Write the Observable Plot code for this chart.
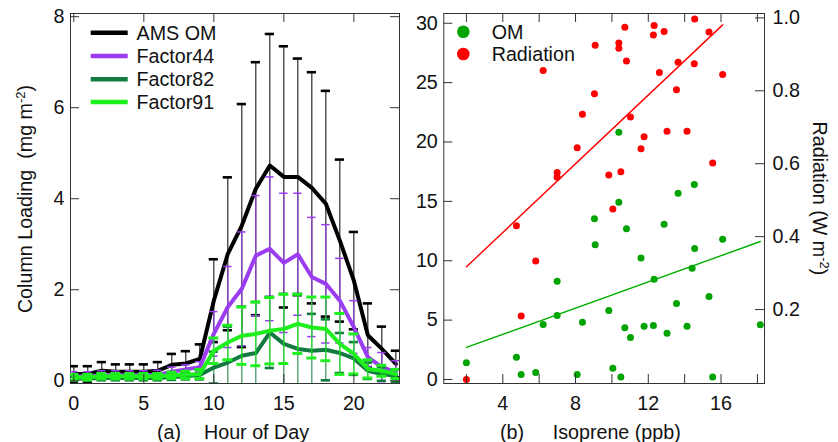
<!DOCTYPE html>
<html><head><meta charset="utf-8">
<script src="https://cdn.jsdelivr.net/npm/d3@7"></script>
<script src="https://cdn.jsdelivr.net/npm/@observablehq/plot@0.6"></script>
<style>
html,body{margin:0;padding:0;background:#fff;}
#wrap{position:relative;width:838px;height:442px;overflow:hidden;background:#fff;}
#wrap svg{position:absolute;top:0;}
</style></head><body><div id="wrap"></div>
<script>
// ---------- Panel (a) data ----------
const hours = [0,1,2,3,4,5,6,7,8,9,10,11,12,13,14,15,16,17,18,19,20,21,22,23];
const amsMean = [0.15,0.15,0.22,0.20,0.20,0.20,0.22,0.35,0.38,0.48,1.76,2.79,3.41,4.22,4.73,4.48,4.48,4.24,3.89,3.08,2.20,1.00,0.70,0.37];
const amsErr  = [0.17,0.17,0.19,0.16,0.16,0.16,0.19,0.24,0.27,0.32,0.91,1.68,2.67,2.78,2.89,2.87,2.60,2.54,2.48,1.78,1.07,0.70,0.49,0.29];
const f44Mean = [0.10,0.10,0.12,0.12,0.12,0.12,0.13,0.20,0.25,0.30,1.03,1.62,2.02,2.75,2.90,2.59,2.78,2.28,2.13,1.76,1.18,0.52,0.30,0.19];
const f44Err  = [0.10,0.10,0.10,0.10,0.10,0.10,0.10,0.10,0.10,0.12,0.49,0.89,1.25,1.32,1.58,1.53,1.34,1.31,1.30,0.93,0.58,0.21,0.32,0.25];
const f82Mean = [0.05,0.05,0.06,0.06,0.06,0.06,0.06,0.08,0.10,0.13,0.29,0.40,0.55,0.61,1.06,0.81,0.70,0.66,0.68,0.61,0.49,0.22,0.15,0.11];
const f82Err  = [0.05,0.05,0.05,0.05,0.05,0.05,0.05,0.06,0.07,0.10,0.35,0.79,1.08,1.12,0.78,1.10,1.21,0.81,0.67,0.44,0.36,0.18,0.15,0.14];
const f91Mean = [0.08,0.08,0.10,0.10,0.10,0.10,0.10,0.12,0.13,0.15,0.66,0.84,0.99,1.03,1.10,1.14,1.25,1.17,1.14,0.81,0.59,0.26,0.22,0.15];
const f91Err  = [0.06,0.06,0.06,0.06,0.06,0.06,0.06,0.07,0.08,0.10,0.28,0.38,0.63,0.70,0.73,0.76,0.65,0.67,0.70,0.67,0.44,0.20,0.12,0.10];
const seriesNames  = ["AMS OM","Factor44","Factor82","Factor91"];
const seriesColors = ["#000000","#9b3cf0","#137a40","#1ef01e"];
const hourTicks = [0,5,10,15,20];
const loadTicks = [0,2,4,6,8];

// ---------- Panel (b) data ----------
const isoOM = [2.0,4.75,5.01,5.81,6.22,6.99,6.99,8.09,8.38,9.04,9.08,9.83,10.05,10.38,10.38,10.49,10.71,10.80,11.02,11.60,11.77,12.28,12.32,12.87,13.03,13.55,13.64,14.13,14.41,14.53,14.55,15.34,15.54,16.09,18.16];
const omVals = [1.40,1.88,0.42,0.59,4.63,8.28,5.39,0.42,4.83,13.53,11.34,5.81,0.95,20.83,14.93,0.22,4.35,12.69,3.54,10.24,4.49,4.55,8.45,13.08,3.90,6.40,15.69,4.49,9.37,16.42,11.03,6.99,0.22,11.82,4.60];
const isoRad = [2.0,4.75,5.01,5.81,6.22,6.99,6.99,8.09,8.38,9.04,9.08,9.83,10.05,10.38,10.38,10.49,10.71,10.80,11.02,11.60,11.77,12.28,12.32,12.61,12.87,13.03,13.55,13.64,14.13,14.53,14.55,15.34,15.54,16.09];
const radVals = [0.008,0.430,0.182,0.333,0.856,0.576,0.563,0.644,0.736,0.792,0.925,0.569,0.476,0.931,0.917,0.578,0.974,0.882,0.728,0.641,0.674,0.953,0.979,0.850,0.963,0.689,0.803,0.878,0.689,0.874,0.997,0.961,0.602,0.845];
// fitted lines (slope, intercept) as shown in the figure
const omFit = [0.552, 1.594];
const radFit = [0.0471, 0.223];
const isoTicks = [2,4,6,8,10,12,14,16,18];
const isoLabels = [4,8,12,16];
const omTicks = [0,5,10,15,20,25,30];
const radTicks = [0.2,0.4,0.6,0.8,1.0];

// ---------- layout ----------
const FONT = "'Liberation Sans', Arial, sans-serif";
const FS = 19.7;
const H = 442;
const wrap = document.getElementById("wrap");
const TICK = 9, AX = "#333";

// ===== Panel (a) =====
const W1 = 420, m1 = {left:70, right:21, top:13, bottom:59};
const fw1 = W1 - m1.left - m1.right, fh = H - m1.top - m1.bottom;
const means = [amsMean, f44Mean, f82Mean, f91Mean];
const errs = [amsErr, f44Err, f82Err, f91Err];
const capW = [2.6, 1.5, 2.6, 3];
const capHalf = [4.6, 4.2, 4.6, 5];
const marksA = [Plot.frame({stroke: AX})];
seriesNames.forEach((name, k) => {
  const data = hours.map((h, i) => ({series: name, hour: h, mean: means[k][i], lo: means[k][i] - errs[k][i], hi: means[k][i] + errs[k][i]}));
  const c = seriesColors[k];
  marksA.push(
    Plot.ruleX(data, {x: "hour", y1: "lo", y2: "hi", stroke: c, strokeWidth: 1, clip: true}),
    Plot.ruleY(data, {x1: "hour", x2: "hour", y: "hi", stroke: c, strokeWidth: capW[k], insetLeft: -capHalf[k], insetRight: -capHalf[k], clip: true}),
    Plot.ruleY(data, {x1: "hour", x2: "hour", y: "lo", stroke: c, strokeWidth: capW[k], insetLeft: -capHalf[k], insetRight: -capHalf[k], clip: true}),
    Plot.line(data, {x: "hour", y: "mean", stroke: c, strokeWidth: 4, strokeLinejoin: "round", clip: true})
  );
});
marksA.push(
  Plot.tickY(loadTicks, {stroke: AX, insetRight: fw1 - TICK}),
  Plot.tickY(loadTicks, {stroke: AX, insetLeft: fw1 - TICK}),
  Plot.tickX(hourTicks, {stroke: AX, insetTop: fh - TICK}),
  Plot.tickX(hourTicks, {stroke: AX, insetBottom: fh - TICK}),
  Plot.axisY(loadTicks, {anchor: "left", tickSize: 0, tickPadding: 6, label: null, fill: "#111"}),
  Plot.axisX(hourTicks, {anchor: "bottom", tickSize: 0, tickPadding: 12, label: null, fill: "#111"})
);
const svgA = Plot.plot({
  width: W1, height: H,
  marginLeft: m1.left, marginRight: m1.right, marginTop: m1.top, marginBottom: m1.bottom,
  x: {domain: [-0.236, 23.26]},
  y: {domain: [-0.06, 8.07]},
  style: {fontFamily: FONT, fontSize: FS + "px", background: "#fff", color: "#111", overflow: "visible"},
  marks: marksA
});
svgA.style.left = "0px";
wrap.appendChild(svgA);

// ===== Panel (b) =====
const W2 = 418, m2 = {left:23.3, right:74, top:13, bottom:59};
const fw2 = W2 - m2.left - m2.right;
// right-axis alignment: radiation (W m-2) -> left-axis units
const radA = 30.7, radB = -0.25;
const toLeft = r => radA * r + radB;
const omRows = isoOM.map((x, i) => ({iso: x, om: omVals[i]}));
const radRows = isoRad.map((x, i) => ({iso: x, rad: radVals[i]}));
const omFitRows = d3.extent(isoOM).map(x => ({iso: x, om: omFit[1] + omFit[0] * x}));
const radFitRows = d3.extent(isoRad).map(x => ({iso: x, rad: radFit[1] + radFit[0] * x}));
const radTickPos = radTicks.map(toLeft);
const svgB = Plot.plot({
  width: W2, height: H,
  marginLeft: m2.left, marginRight: m2.right, marginTop: m2.top, marginBottom: m2.bottom,
  x: {domain: [0.756, 18.39]},
  y: {domain: [-0.337, 30.82]},
  style: {fontFamily: FONT, fontSize: FS + "px", background: "#fff", color: "#111", overflow: "visible"},
  marks: [
    Plot.frame({stroke: AX}),
    Plot.dot(omRows, {x: "iso", y: "om", r: 3.5, fill: "#00a300", clip: true}),
    Plot.dot(radRows, {x: "iso", y: d => toLeft(d.rad), r: 3.5, fill: "#ff0000", clip: true}),
    Plot.line(omFitRows, {x: "iso", y: "om", stroke: "#00b000", strokeWidth: 1.4}),
    Plot.line(radFitRows, {x: "iso", y: d => toLeft(d.rad), stroke: "#ff0000", strokeWidth: 1.4}),
    Plot.tickY(omTicks, {stroke: AX, insetRight: fw2 - TICK}),
    Plot.tickY(radTickPos, {stroke: AX, insetLeft: fw2 - TICK}),
    Plot.tickX(isoTicks, {stroke: AX, insetTop: fh - TICK}),
    Plot.tickX(isoTicks, {stroke: AX, insetBottom: fh - TICK}),
    Plot.axisY(omTicks, {anchor: "left", tickSize: 0, tickPadding: 6, label: null, fill: "#111"}),
    Plot.axisY(radTickPos, {anchor: "right", tickSize: 0, tickPadding: 8, label: null, fill: "#111",
      tickFormat: d => ((d - radB) / radA).toFixed(1)}),
    Plot.axisX(isoLabels, {anchor: "bottom", tickSize: 0, tickPadding: 12, label: null, fill: "#111"})
  ]
});
svgB.style.left = "420px";
wrap.appendChild(svgB);

// ===== labels & legends =====
const sA = d3.select(svgA), sB = d3.select(svgB);
function txt(sel, x, y, s, anchor = "start") {
  return sel.append("text").attr("x", x).attr("y", y).attr("text-anchor", anchor)
    .attr("fill", "#111").style("font-family", FONT).style("font-size", FS + "px").style("white-space", "pre").text(s);
}
// x titles
txt(sA, 157, 439, "(a)");
txt(sA, 204, 439, "Hour of Day");
txt(sB, 80, 439, "(b)");
txt(sB, 132.7, 439, "Isoprene (ppb)");
// y title left
const yl = sA.append("text").attr("transform", "translate(32,199) rotate(-90)").attr("text-anchor", "middle")
  .attr("fill", "#111").style("font-family", FONT).style("font-size", FS + "px").style("white-space", "pre");
yl.append("tspan").text("Column Loading  (mg m");
yl.append("tspan").attr("baseline-shift", "super").style("font-size", "13px").text("-2");
yl.append("tspan").text(")");
// y title right
const yr = sB.append("text").attr("transform", "translate(393,198.5) rotate(90)").attr("text-anchor", "middle")
  .attr("fill", "#111").style("font-family", FONT).style("font-size", FS + "px").style("white-space", "pre");
yr.append("tspan").text("Radiation (W m");
yr.append("tspan").attr("baseline-shift", "super").style("font-size", "13px").text("-2");
yr.append("tspan").text(")");
// legend (a)
const legY = [32.7, 56, 79.3, 102];
seriesNames.forEach((n, k) => {
  sA.append("line").attr("x1", 90.7).attr("x2", 127.7).attr("y1", legY[k]).attr("y2", legY[k])
    .attr("stroke", seriesColors[k]).attr("stroke-width", 4.5);
  txt(sA, 136.5, legY[k], n).attr("dy", "0.35em");
});
// legend (b)
const legB = [["OM", "#00a300", 31.7], ["Radiation", "#ff0000", 54]];
legB.forEach(([n, c, y]) => {
  sB.append("circle").attr("cx", 43.3).attr("cy", y).attr("r", 6.3).attr("fill", c);
  txt(sB, 71.7, y, n).attr("dy", "0.35em");
});
</script></body></html>
